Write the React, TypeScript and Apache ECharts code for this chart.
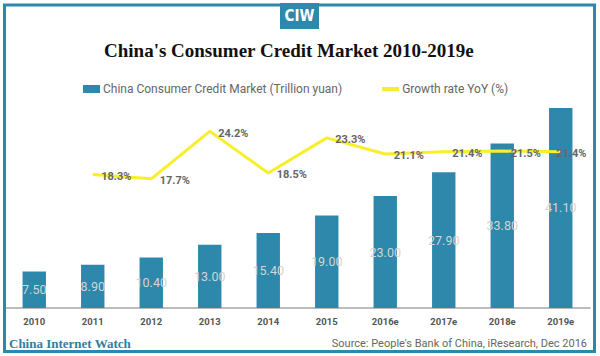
import React, { useEffect, useRef } from "react";
import * as echarts from "echarts";

const categories = ["2010", "2011", "2012", "2013", "2014", "2015", "2016e", "2017e", "2018e", "2019e"];
const marketValues = [7.5, 8.9, 10.4, 13.0, 15.4, 19.0, 23.0, 27.9, 33.8, 41.1];
const growthValues: (number | string)[] = ["-", 18.3, 17.7, 24.2, 18.5, 23.3, 21.1, 21.4, 21.5, 21.4];

const BLUE = "#2e88ab";
const YELLOW = "#f7ef2c";

export default function App() {
  const ref = useRef<HTMLDivElement>(null);
  useEffect(() => {
    if (!ref.current) return;
    const chart = echarts.init(ref.current, null, { renderer: "svg" });
    const lastIdx = growthValues.length - 1;
    const growthData = growthValues.map((v, i) =>
      i === lastIdx ? { value: v, label: { offset: [-13, 2] } } : { value: v }
    );
    chart.setOption({
      animation: false,
      backgroundColor: "#ffffff",
      title: {
        text: "China's Consumer Credit Market 2010-2019e",
        left: 99,
        top: 36,
        textStyle: { fontFamily: "Liberation Serif", fontWeight: "bold", fontSize: 19, color: "#111" },
      },
      legend: {
        left: 78,
        top: 78,
        itemWidth: 17,
        itemHeight: 8,
        itemGap: 40,
        textStyle: { fontFamily: "Roboto", fontSize: 12, color: "#666", padding: [0, 0, 0, -2] },
        data: [
          { name: "China Consumer Credit Market (Trillion yuan)", icon: "rect" },
          { name: "Growth rate YoY (%)", icon: "path://M0,0 L17,0 L17,4 L0,4 Z" },
        ],
      },
      grid: { left: 5, right: 10, top: 89, bottom: 48 },
      xAxis: {
        type: "category",
        data: categories,
        axisTick: { show: false },
        axisLine: { lineStyle: { color: "#a6a6a6", width: 1.5 } },
        axisLabel: { fontFamily: "Roboto", fontWeight: "bold", fontSize: 9.5, color: "#555", margin: 8 },
      },
      yAxis: [
        { type: "value", min: 0, max: 45, show: false, splitLine: { show: false } },
        { type: "value", min: 0, max: 30, show: false, splitLine: { show: false } },
      ],
      series: [
        {
          name: "China Consumer Credit Market (Trillion yuan)",
          type: "bar",
          data: marketValues,
          barWidth: "40%",
          itemStyle: { color: BLUE },
          label: {
            show: true,
            position: "inside",
            formatter: (p: any) => Number(p.value).toFixed(2),
            fontFamily: "Roboto",
            fontSize: 12.5,
            color: "#d4d4d4",
          },
        },
        {
          name: "Growth rate YoY (%)",
          type: "line",
          yAxisIndex: 1,
          data: growthData,
          symbol: "circle",
          symbolSize: 1,
          showSymbol: true,
          lineStyle: { color: YELLOW, width: 3 },
          itemStyle: { color: YELLOW },
          label: {
            show: true,
            position: "right",
            distance: 8,
            offset: [0, 2],
            formatter: (p: any) => Number(p.value).toFixed(1) + "%",
            fontFamily: "Roboto",
            fontSize: 11,
            fontWeight: "bold",
            color: "#666",
          },
          z: 5,
        },
      ],
      graphic: [
        {
          type: "rect",
          shape: { x: 4.5, y: 5, width: 590, height: 346.5 },
          style: { fill: "none", stroke: BLUE, lineWidth: 3 },
          z: 100,
        },
        {
          type: "rect",
          shape: { x: 280, y: 3, width: 39, height: 26 },
          style: { fill: BLUE },
          z: 101,
        },
        {
          type: "text",
          x: 299.5,
          y: 16,
          style: {
            text: "CIW",
            fill: "#ffffff",
            font: "bold 15px 'DejaVu Sans Condensed', 'Liberation Sans Narrow', sans-serif",
            textAlign: "center",
            textVerticalAlign: "middle",
          },
          z: 102,
        },
        {
          type: "text",
          x: 9,
          y: 343,
          style: {
            text: "China Internet Watch",
            fill: "#2e7fa3",
            font: "bold 13px 'Liberation Serif'",
            textAlign: "left",
            textVerticalAlign: "middle",
          },
          z: 102,
        },
        {
          type: "text",
          x: 587,
          y: 343,
          style: {
            text: "Source: People's Bank of China, iResearch, Dec 2016",
            fill: "#666",
            font: "11px Roboto",
            textAlign: "right",
            textVerticalAlign: "middle",
          },
          z: 102,
        },
      ],
    });
    return () => chart.dispose();
  }, []);
  return <div ref={ref} style={{ width: 600, height: 356, position: "absolute", left: 0, top: 0 }} />;
}
